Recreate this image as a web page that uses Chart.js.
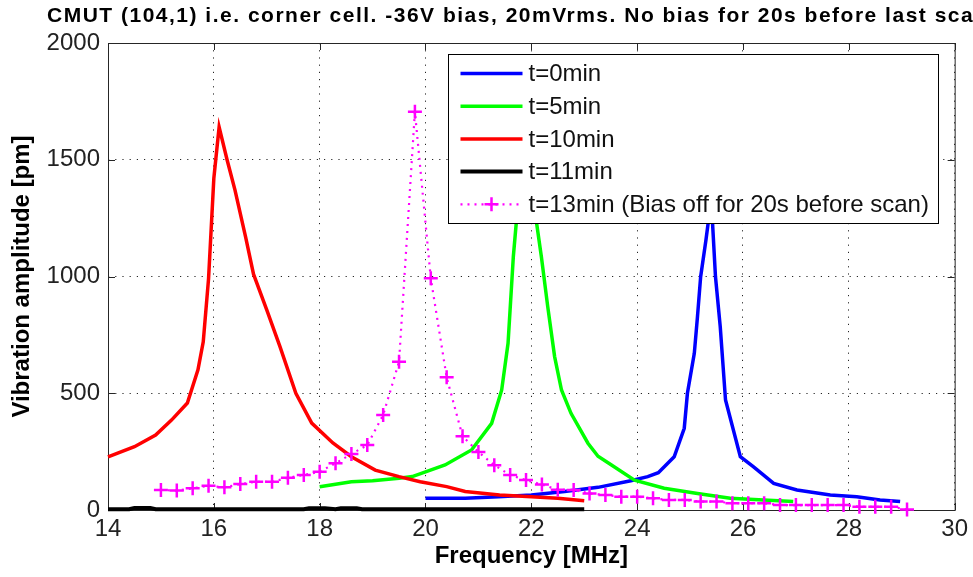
<!DOCTYPE html>
<html>
<head>
<meta charset="utf-8">
<script src="https://cdn.jsdelivr.net/npm/chart.js@4.4.1/dist/chart.umd.min.js"></script>
<style>
  html, body { margin: 0; padding: 0; background: #fff; }
  canvas { display: block; }
</style>
</head>
<body>
<canvas id="cmut-chart" width="973" height="577"></canvas>
<script>
// frequency in MHz, amplitude in pm
const titleText = "CMUT (104,1) i.e. corner cell. -36V bias, 20mVrms. No bias for 20s before last scan"
const seriesLabels = ["t=0min", "t=5min", "t=10min", "t=11min", "t=13min (Bias off for 20s before scan)"]

const blueFreq = [20.0, 20.75, 21.38, 22.0, 22.63, 23.26, 23.88, 24.2, 24.4, 24.7, 24.89, 24.95, 25.08, 25.14, 25.2, 25.3, 25.4, 25.48, 25.57, 25.67, 25.95, 26.2, 26.58, 27.02, 27.65, 28.15, 28.59, 28.97]
const blueAmp = [50, 50, 57, 64, 79, 97, 125, 143, 160, 228, 350, 500, 671, 828, 999, 1156, 1330, 999, 785, 471, 228, 185, 114, 86, 64, 57, 43, 36]

const greenFreq = [18.0, 18.6, 19.0, 19.5, 19.75, 20.37, 20.87, 21.25, 21.44, 21.56, 21.66, 21.8, 21.9, 22.0, 22.1, 22.19, 22.31, 22.44, 22.57, 22.75, 23.07, 23.26, 23.5, 23.95, 24.51, 25.14, 25.76, 26.39, 26.95]
const greenAmp = [100, 121, 125, 136, 143, 193, 257, 371, 514, 714, 1085, 1450, 1700, 1500, 1228, 1085, 871, 657, 514, 414, 286, 230, 195, 128, 93, 71, 50, 43, 36]

const redFreq = [14.0, 14.5, 14.9, 15.2, 15.5, 15.7, 15.8, 15.9, 16.0, 16.1, 16.25, 16.4, 16.6, 16.75, 17.0, 17.25, 17.55, 17.85, 18.25, 18.6, 19.05, 19.5, 19.9, 20.4, 20.75, 21.4, 22.0, 22.5, 23.0]
const redAmp = [228, 271, 321, 385, 458, 600, 720, 990, 1420, 1640, 1500, 1370, 1170, 1010, 857, 700, 500, 372, 287, 228, 171, 143, 121, 100, 79, 64, 57, 50, 40]

const blackFreq = [14.0, 14.4, 14.5, 14.8, 14.9, 17.7, 17.8, 18.1, 18.3, 18.4, 18.7, 18.8, 23.0]
const blackAmp = [3, 3, 9, 9, 3, 3, 8, 8, 3, 8, 8, 3, 3]

const magentaFreq = [15.0, 15.3, 15.6, 15.9, 16.2, 16.5, 16.8, 17.1, 17.4, 17.7, 18.0, 18.3, 18.6, 18.9, 19.2, 19.5, 19.8, 20.1, 20.4, 20.7, 21.0, 21.3, 21.6, 21.9, 22.2, 22.5, 22.8, 23.1, 23.4, 23.7, 24.0, 24.3, 24.6, 24.9, 25.2, 25.5, 25.8, 26.1, 26.4, 26.7, 27.0, 27.3, 27.6, 27.9, 28.2, 28.5, 28.8, 29.1]
const magentaAmp = [86, 83, 93, 104, 97, 111, 121, 121, 138, 150, 164, 200, 240, 278, 407, 635, 1706, 992, 568, 316, 248, 192, 150, 128, 109, 87, 86, 71, 64, 57, 57, 50, 43, 43, 36, 36, 29, 29, 29, 21, 21, 21, 21, 21, 14, 14, 14, 2]

const xRange = [14, 30]
const yRange = [0, 2000]

const toPoints = (xs, ys) => xs.map((x, i) => ({ x: x, y: ys[i] }))

const tickFont = { family: "Arial, 'Liberation Sans', sans-serif", size: 24 }
const titleFont = { family: "Arial, 'Liberation Sans', sans-serif", size: 24, weight: 'bold' }

// matlab style box with ticks pointing inwards
const framePlugin = {
    id: 'frame',
    beforeDatasetsDraw(chart) {
        const { ctx, chartArea: a, scales } = chart
        ctx.save()
        ctx.strokeStyle = '#262626'
        ctx.lineWidth = 1
        ctx.strokeRect(a.left + 0.5, a.top + 0.5, a.right - a.left, a.bottom - a.top)
        ctx.beginPath()
        scales.x.ticks.forEach(t => {
            const px = Math.round(scales.x.getPixelForValue(t.value)) + 0.5
            ctx.moveTo(px, a.bottom); ctx.lineTo(px, a.bottom - 7)
            ctx.moveTo(px, a.top); ctx.lineTo(px, a.top + 7)
        })
        scales.y.ticks.forEach(t => {
            const py = Math.round(scales.y.getPixelForValue(t.value)) + 0.5
            ctx.moveTo(a.left, py); ctx.lineTo(a.left + 7, py)
            ctx.moveTo(a.right, py); ctx.lineTo(a.right - 7, py)
        })
        ctx.stroke()
        ctx.restore()
    }
}

// legend inside the axes, top right, like matlab's
const boxLegendPlugin = {
    id: 'boxLegend',
    afterDatasetsDraw(chart) {
        const { ctx, chartArea: a } = chart
        const w = 490, h = 169
        const left = Math.round(a.right - 17 - w) + 0.5
        const top = Math.round(a.top + 11) + 0.5
        ctx.save()
        ctx.fillStyle = '#fff'
        ctx.fillRect(left, top, w, h)
        ctx.strokeStyle = '#000'
        ctx.lineWidth = 1
        ctx.strokeRect(left, top, w, h)
        ctx.font = "24px Arial, 'Liberation Sans', sans-serif"
        ctx.textBaseline = 'middle'
        ctx.textAlign = 'left'
        chart.data.datasets.forEach((ds, i) => {
            const y = top + 19 + i * 32.7
            ctx.save()
            ctx.strokeStyle = ds.borderColor
            ctx.lineWidth = ds.borderWidth
            ctx.setLineDash(ds.borderDash || [])
            ctx.beginPath()
            ctx.moveTo(left + 12, y)
            ctx.lineTo(left + 74, y)
            ctx.stroke()
            ctx.restore()
            if (ds.pointStyle === 'cross') {
                ctx.save()
                ctx.strokeStyle = ds.pointBorderColor
                ctx.lineWidth = ds.pointBorderWidth
                ctx.beginPath()
                ctx.moveTo(left + 43 - ds.pointRadius, y); ctx.lineTo(left + 43 + ds.pointRadius, y)
                ctx.moveTo(left + 43, y - ds.pointRadius); ctx.lineTo(left + 43, y + ds.pointRadius)
                ctx.stroke()
                ctx.restore()
            }
            ctx.fillStyle = '#111'
            ctx.fillText(ds.label, left + 80, y + 1)
        })
        ctx.restore()
    }
}

// the plot title runs off the right edge in the original
const wideTitlePlugin = {
    id: 'wideTitle',
    afterDraw(chart) {
        const ctx = chart.ctx
        ctx.save()
        ctx.font = "bold 21px Arial, 'Liberation Sans', sans-serif"
        if ('letterSpacing' in ctx) ctx.letterSpacing = '1.5px'
        ctx.fillStyle = '#000'
        ctx.textBaseline = 'alphabetic'
        ctx.textAlign = 'left'
        ctx.fillText(titleText, 47, 22)
        ctx.restore()
    }
}

const datasets = [{
    label: seriesLabels[0],
    data: toPoints(blueFreq, blueAmp),
    borderColor: '#0000ff',
    borderWidth: 3.5,
    order: 5
}, {
    label: seriesLabels[1],
    data: toPoints(greenFreq, greenAmp),
    borderColor: '#00ff00',
    borderWidth: 3.5,
    order: 4
}, {
    label: seriesLabels[2],
    data: toPoints(redFreq, redAmp),
    borderColor: '#ff0000',
    borderWidth: 3.5,
    order: 3
}, {
    label: seriesLabels[3],
    data: toPoints(blackFreq, blackAmp),
    borderColor: '#000000',
    borderWidth: 4,
    order: 2
}, {
    label: seriesLabels[4],
    data: toPoints(magentaFreq, magentaAmp),
    borderColor: '#ff00ff',
    borderWidth: 2.2,
    borderDash: [2, 5],
    pointStyle: 'cross',
    pointRadius: 7,
    pointBorderWidth: 2.5,
    pointBorderColor: '#ff00ff',
    order: 1
}]

datasets.forEach(ds => {
    ds.backgroundColor = ds.borderColor
    ds.fill = false
    ds.tension = 0
    ds.clip = 10
    if (ds.pointRadius === undefined) ds.pointRadius = 0
})

const MyChart = new Chart(document.getElementById('cmut-chart'), {
    type: 'line',
    data: { datasets: datasets },
    options: {
        responsive: false,
        animation: false,
        devicePixelRatio: 1,
        layout: { padding: { top: 43, right: 15, bottom: 0, left: 0 } },
        plugins: {
            legend: { display: false },
            tooltip: { enabled: false },
            title: { display: false }
        },
        scales: {
            x: {
                type: 'linear',
                min: xRange[0],
                max: xRange[1],
                afterFit: (scale) => { scale.height = 67 },
                ticks: { stepSize: 2, font: tickFont, color: '#222', padding: 5, maxRotation: 0, callback: (v) => String(v) },
                grid: { color: 'rgba(0,0,0,0.85)', lineWidth: 1, drawTicks: false },
                border: { display: false, dash: [1.2, 6] },
                title: { display: true, text: 'Frequency [MHz]', font: titleFont, color: '#000', padding: { top: 0, bottom: 6 } }
            },
            y: {
                type: 'linear',
                min: yRange[0],
                max: yRange[1],
                afterFit: (scale) => { scale.width = 108 },
                ticks: { stepSize: 500, font: tickFont, color: '#222', padding: 8, callback: (v) => String(v) },
                grid: { color: 'rgba(0,0,0,0.85)', lineWidth: 1, drawTicks: false },
                border: { display: false, dash: [1.2, 6] },
                title: { display: true, text: 'Vibration amplitude [pm]', font: titleFont, color: '#000', padding: { top: 8, bottom: 0 } }
            }
        }
    },
    plugins: [framePlugin, boxLegendPlugin, wideTitlePlugin]
})
</script>
</body>
</html>
